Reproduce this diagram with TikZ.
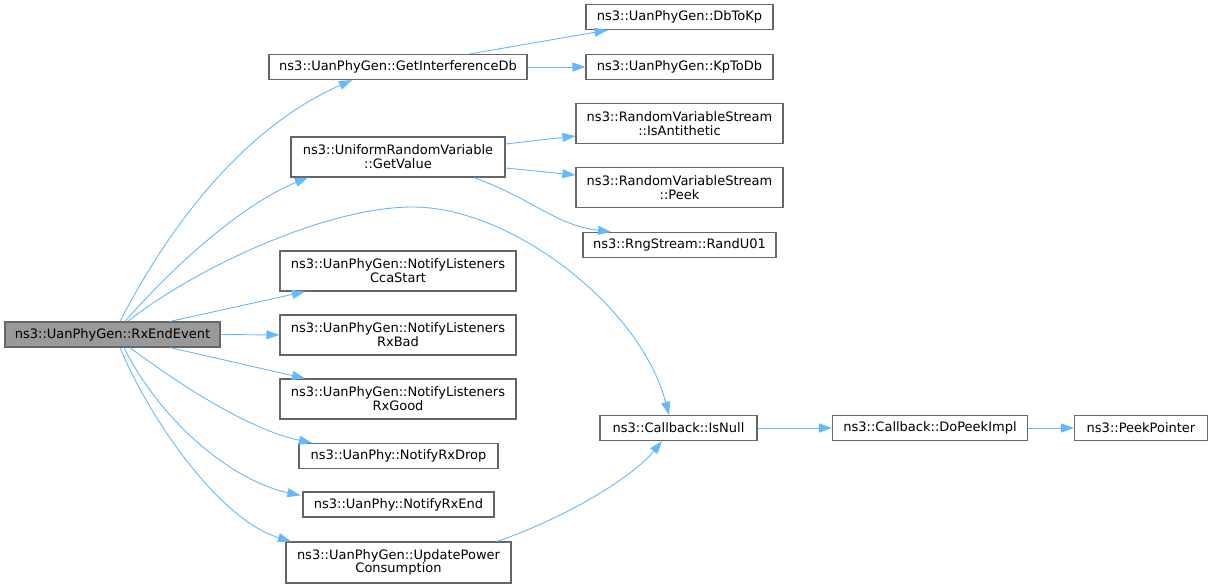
\documentclass[tikz,border=0pt]{standalone}
\usepackage{fontspec}
\setmainfont{DejaVu Sans}
\usetikzlibrary{arrows.meta}
\definecolor{edgeblue}{HTML}{63B8FF}
\definecolor{boxborder}{HTML}{666666}
\definecolor{hlfill}{HTML}{999999}
\begin{document}
\begin{tikzpicture}[x=1pt,y=-1pt,
  box/.style={draw=boxborder, line width=1.2pt, fill=white, inner sep=0pt, align=center,
    font=\fontsize{13}{13.7}\selectfont},
  hl/.style={box, fill=hlfill},
  edge/.style={draw=edgeblue, line width=0.9pt, -{Triangle[length=13pt,width=9pt]}}]
\useasboundingbox (0,0) rectangle (1213,588);
% nodes
\node[hl,  minimum width=215pt, minimum height=25pt] (rx) at (112.5,334.5) {ns3::UanPhyGen::RxEndEvent};
\node[box, minimum width=258pt, minimum height=25pt] (gid) at (398,67) {ns3::UanPhyGen::GetInterferenceDb};
\node[box, minimum width=187pt, minimum height=25pt] (dbtokp) at (679.5,17) {ns3::UanPhyGen::DbToKp};
\node[box, minimum width=187pt, minimum height=25pt] (kptodb) at (679.5,67) {ns3::UanPhyGen::KpToDb};
\node[box, minimum width=214pt, minimum height=40pt] (gv) at (398,157) {ns3::UniformRandomVariable\\::GetValue};
\node[box, minimum width=207pt, minimum height=40pt] (anti) at (679.5,123.5) {ns3::RandomVariableStream\\::IsAntithetic};
\node[box, minimum width=207pt, minimum height=40pt] (peek) at (679.5,187.5) {ns3::RandomVariableStream\\::Peek};
\node[box, minimum width=193pt, minimum height=25pt] (rand) at (679.5,245) {ns3::RngStream::RandU01};
\node[box, minimum width=236pt, minimum height=40pt] (cca) at (398,271) {ns3::UanPhyGen::NotifyListeners\\CcaStart};
\node[box, minimum width=236pt, minimum height=40pt] (rxbad) at (398,335) {ns3::UanPhyGen::NotifyListeners\\RxBad};
\node[box, minimum width=236pt, minimum height=40pt] (rxgood) at (398,399) {ns3::UanPhyGen::NotifyListeners\\RxGood};
\node[box, minimum width=199pt, minimum height=25pt] (drop) at (398.5,456) {ns3::UanPhy::NotifyRxDrop};
\node[box, minimum width=191pt, minimum height=25pt] (rxend) at (398.5,504.5) {ns3::UanPhy::NotifyRxEnd};
\node[box, minimum width=225pt, minimum height=41pt] (up) at (398.5,562.5) {ns3::UanPhyGen::UpdatePower\\Consumption};
\node[box, minimum width=157pt, minimum height=25pt] (isnull) at (678.5,428) {ns3::Callback::IsNull};
\node[box, minimum width=195pt, minimum height=25pt] (dpi) at (930,428) {ns3::Callback::DoPeekImpl};
\node[box, minimum width=133pt, minimum height=25pt] (pp) at (1141,428) {ns3::PeekPointer};
% edges from RxEndEvent
\draw[edge] ([xshift=7.5pt]rx.north) .. controls (175,215) and (250,125) .. ([xshift=-46pt]gid.south);
\draw[edge] ([xshift=12.5pt]rx.north) .. controls (170,270) and (240,205) .. ([xshift=-90pt]gv.south);
\draw[edge] ([xshift=15.5pt]rx.north) .. controls (185,275) and (320,207) .. (413,207)
            .. controls (510,207) and (640,305) .. ([xshift=-9.5pt]isnull.north);
\draw[edge] ([xshift=57.5pt]rx.north) -- ([xshift=-93pt]cca.south);
\draw[edge] (rx.east) -- (rxbad.west);
\draw[edge] ([xshift=57.5pt]rx.south) -- ([xshift=-93pt]rxgood.north);
\draw[edge] ([xshift=17.5pt]rx.south) .. controls (180,385) and (250,430) .. ([xshift=-86.5pt]drop.north);
\draw[edge] ([xshift=11.5pt]rx.south) .. controls (160,420) and (230,480) .. ([xshift=-2pt,yshift=9pt]rxend.west);
\draw[edge] ([xshift=7.5pt]rx.south) .. controls (150,420) and (220,520) .. ([xshift=-107.5pt]up.north);
% second level
\draw[edge] ([xshift=72pt]gid.north) -- ([xshift=-72pt]dbtokp.south);
\draw[edge] (gid.east) -- (kptodb.west);
\draw[edge] ([yshift=13pt]gv.east) -- ([yshift=-12.5pt]anti.west);
\draw[edge] ([yshift=-11pt]gv.east) -- ([yshift=12.5pt]peek.west);
\draw[edge] ([xshift=76pt]gv.south) .. controls (535,200) and (555,225) .. ([xshift=-68.5pt]rand.north);
\draw[edge] ([xshift=98.5pt]up.north) .. controls (560,520) and (630,480) .. ([xshift=-16.5pt]isnull.south);
\draw[edge] (isnull.east) -- (dpi.west);
\draw[edge] (dpi.east) -- (pp.west);
\end{tikzpicture}
\end{document}
